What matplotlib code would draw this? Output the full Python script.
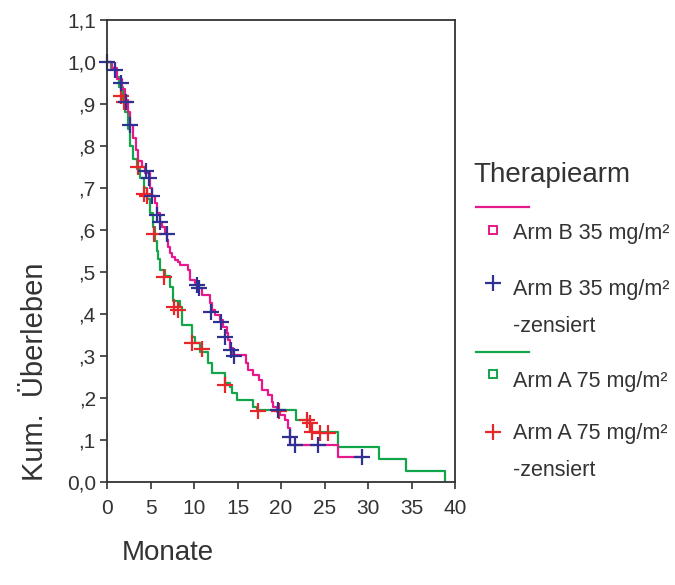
import matplotlib
matplotlib.use('Agg')
import matplotlib.pyplot as plt
from matplotlib.lines import Line2D

plt.rcParams['font.family'] = ['Liberation Sans', 'DejaVu Sans']

# Kaplan-Meier steps, Arm A 75 mg/m² (green)
arm_a_t = [0, 0.5, 1.0, 1.4, 1.8, 2.1, 2.4, 2.7, 3.0, 3.4, 3.8, 4.2, 4.6, 4.9, 5.3, 5.5,
           5.7, 5.9, 6.1, 6.7, 7.2, 7.6, 8.4, 8.6, 9.8, 10.1, 10.7, 11.6, 12.1, 13.6,
           14.1, 14.4, 14.9, 16.8, 17.2, 21.7, 23.3, 26.5, 31.3, 34.4, 38.9]
arm_a_s = [1.0, 0.985, 0.965, 0.94, 0.91, 0.88, 0.84, 0.80, 0.77, 0.745, 0.725, 0.70, 0.675,
           0.64, 0.607, 0.575, 0.55, 0.53, 0.505, 0.49, 0.465, 0.43, 0.417, 0.375, 0.345,
           0.33, 0.31, 0.283, 0.26, 0.236, 0.226, 0.212, 0.195, 0.179, 0.171, 0.148, 0.119,
           0.083, 0.055, 0.027, 0.0]

# Kaplan-Meier steps, Arm B 35 mg/m² (magenta)
arm_b_t = [0, 0.6, 1.2, 1.7, 2.1, 2.4, 2.7, 3.0, 3.3, 3.6, 4.0, 4.4, 4.9, 5.2, 5.5, 5.7,
           6.1, 6.3, 6.7, 6.9, 7.0, 7.2, 7.5, 7.8, 8.2, 8.4, 9.3, 9.5, 10.1, 10.5, 10.9,
           11.8, 12.1, 12.4, 13.0, 13.3, 13.8, 13.9, 14.1, 14.5, 16.0, 16.2, 16.8, 17.5,
           17.8, 18.5, 19.0, 19.1, 19.5, 19.9, 20.5, 20.8, 21.0, 26.5, 29.3]
arm_b_s = [1.0, 0.985, 0.96, 0.935, 0.91, 0.88, 0.85, 0.82, 0.79, 0.765, 0.75, 0.735, 0.70,
           0.68, 0.665, 0.64, 0.62, 0.607, 0.59, 0.576, 0.56, 0.545, 0.536, 0.528, 0.524,
           0.517, 0.505, 0.48, 0.474, 0.462, 0.445, 0.426, 0.41, 0.398, 0.386, 0.369, 0.355,
           0.338, 0.32, 0.302, 0.283, 0.267, 0.255, 0.243, 0.219, 0.207, 0.19, 0.179, 0.167,
           0.16, 0.148, 0.129, 0.088, 0.06, 0.06]

# censored observations
cens_b_t = [0.0, 0.9, 1.6, 2.2, 2.6, 4.5, 4.8, 5.2, 5.7, 6.1, 6.9, 10.4, 10.6, 12.0, 13.1,
            13.6, 14.2, 14.6, 19.6, 21.0, 21.6, 24.3, 29.3]
cens_b_s = [1.0, 0.98, 0.95, 0.905, 0.85, 0.74, 0.725, 0.68, 0.635, 0.62, 0.59, 0.47,
            0.462, 0.405, 0.38, 0.345, 0.315, 0.30, 0.172, 0.107, 0.088, 0.088, 0.06]
cens_a_t = [1.6, 1.9, 3.6, 4.2, 4.6, 5.4, 6.6, 7.7, 8.2, 9.8, 10.9, 13.6, 17.4, 19.8,
            23.0, 23.3, 23.6, 24.5, 25.4]
cens_a_s = [0.92, 0.905, 0.75, 0.685, 0.68, 0.59, 0.487, 0.417, 0.41, 0.33, 0.316, 0.232,
            0.17, 0.17, 0.148, 0.14, 0.12, 0.117, 0.117]

x_ticks = [0, 5, 10, 15, 20, 25, 30, 35, 40]
y_ticks = [0.0, 0.1, 0.2, 0.3, 0.4, 0.5, 0.6, 0.7, 0.8, 0.9, 1.0, 1.1]
y_labels = ['0,0', ',1', ',2', ',3', ',4', ',5', ',6', ',7', ',8', ',9', '1,0', '1,1']

col_b = '#E6198C'
col_a = '#12A54A'
col_bc = '#2E3192'
col_ac = '#E8262A'
spine_col = '#333333'
txt_col = '#333333'

W, H = 675, 585
fig = plt.figure(figsize=(W / 100, H / 100), dpi=100)
ax = fig.add_axes([107 / W, 1 - 482 / H, (455 - 107) / W, (482 - 20) / H])

ax.step(arm_a_t, arm_a_s, where='post', color=col_a, lw=1.6)
ax.step(arm_b_t, arm_b_s, where='post', color=col_b, lw=1.6)
ax.plot(cens_a_t, cens_a_s, '+', color=col_ac, ms=11, mew=1.6, clip_on=False)
ax.plot(cens_b_t, cens_b_s, '+', color=col_bc, ms=11, mew=1.6, clip_on=False)

ax.set_xlim(0, 40)
ax.set_ylim(0, 1.1)
ax.set_xticks(x_ticks)
ax.set_yticks(y_ticks)
ax.set_yticklabels(y_labels)
ax.tick_params(labelsize=15, length=5, width=1.2, color=spine_col, labelcolor=txt_col, pad=3)
ax.tick_params(axis='x', pad=7)
for sp in ax.spines.values():
    sp.set_color(spine_col)
    sp.set_linewidth(1.3)


def fx(px):
    return px / W


def fy(py):
    return 1 - py / H


fig.text(fx(35), fy(372), 'Kum.  Überleben', rotation=90, fontsize=21,
         ha='center', va='center', color=txt_col)
fig.text(fx(122), fy(553), 'Monate', fontsize=20, ha='left', va='center', color=txt_col)

# legend
fig.text(fx(473), fy(175), 'Therapiearm', fontsize=20, ha='left', va='center', color=txt_col)
fig.add_artist(Line2D([fx(476), fx(529)], [fy(207), fy(207)], color=col_b, lw=1.6))
fig.add_artist(Line2D([fx(493)], [fy(230)], marker='s', ms=6, mfc='white', mec=col_b, mew=1.4))
fig.text(fx(513), fy(234), 'Arm B 35 mg/m²', fontsize=15.5, ha='left', va='center', color=txt_col)
fig.add_artist(Line2D([fx(493)], [fy(283)], marker='+', ms=11, mec=col_bc, mew=1.6))
fig.text(fx(513), fy(289), 'Arm B 35 mg/m²', fontsize=15.5, ha='left', va='center', color=txt_col)
fig.text(fx(513), fy(326), '-zensiert', fontsize=15.5, ha='left', va='center', color=txt_col)
fig.add_artist(Line2D([fx(476), fx(529)], [fy(352), fy(352)], color=col_a, lw=1.6))
fig.add_artist(Line2D([fx(493)], [fy(374)], marker='s', ms=6, mfc='white', mec=col_a, mew=1.4))
fig.text(fx(513), fy(381), 'Arm A 75 mg/m²', fontsize=15.5, ha='left', va='center', color=txt_col)
fig.add_artist(Line2D([fx(493)], [fy(432)], marker='+', ms=11, mec=col_ac, mew=1.6))
fig.text(fx(513), fy(434), 'Arm A 75 mg/m²', fontsize=15.5, ha='left', va='center', color=txt_col)
fig.text(fx(513), fy(471), '-zensiert', fontsize=15.5, ha='left', va='center', color=txt_col)

fig.savefig('out.png', dpi=100)
